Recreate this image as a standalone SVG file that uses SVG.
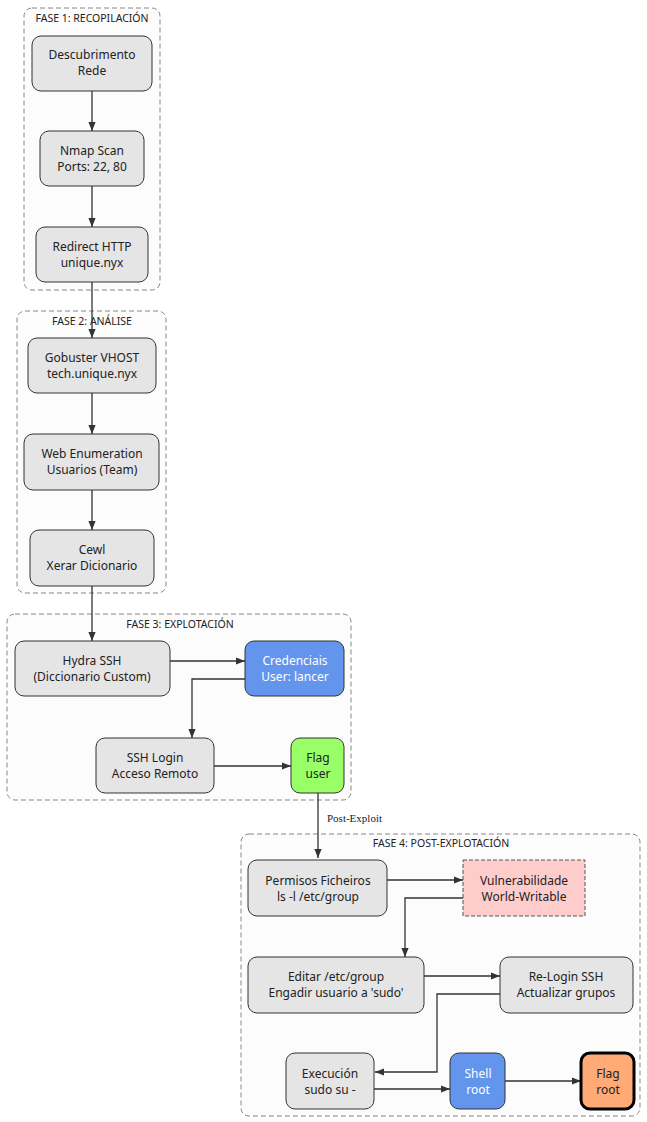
<svg xmlns="http://www.w3.org/2000/svg" width="647" height="1122" viewBox="0 0 647 1122">
<style>
.cl{fill:#fcfcfc;stroke:#888;stroke-dasharray:5 3;stroke-width:1}
.n{fill:#e5e5e5;stroke:#333;stroke-width:1}
.t{font-family:"Noto Sans",sans-serif;font-size:12px;fill:#222;text-anchor:middle}
.ct{font-family:"Noto Sans",sans-serif;font-size:10.5px;fill:#222;text-anchor:middle}
.e{fill:none;stroke:#333;stroke-width:1.3}
</style>
<defs><marker id="a" viewBox="0 0 10 10" refX="10" refY="5" markerWidth="9" markerHeight="9" orient="auto" markerUnits="userSpaceOnUse"><path d="M0,1 L10,5 L0,9z" fill="#333"/></marker></defs>
<g id="clusters">
<rect class="cl" x="24" y="8" width="136" height="282" rx="8"/><text class="ct" x="92" y="22">FASE 1: RECOPILACIÓN</text>
<rect class="cl" x="17" y="311" width="149" height="282" rx="8"/><text class="ct" x="92" y="325">FASE 2: ANÁLISE</text>
<rect class="cl" x="7" y="614" width="344" height="186" rx="8"/><text class="ct" x="180" y="628">FASE 3: EXPLOTACIÓN</text>
<rect class="cl" x="241" y="834" width="399" height="282" rx="8"/><text class="ct" x="441" y="847">FASE 4: POST-EXPLOTACIÓN</text>
</g>
<g id="edges">
<path class="e" marker-end="url(#a)" d="M92,91V131"/>
<path class="e" marker-end="url(#a)" d="M92,186V227"/>
<path class="e" marker-end="url(#a)" d="M92,282V338"/>
<path class="e" marker-end="url(#a)" d="M92,393V434"/>
<path class="e" marker-end="url(#a)" d="M92,490V530"/>
<path class="e" marker-end="url(#a)" d="M92,586V641"/>
<path class="e" marker-end="url(#a)" d="M170,661H245"/>
<path class="e" marker-end="url(#a)" d="M245,679H192V738"/>
<path class="e" marker-end="url(#a)" d="M214,766H291"/>
<path class="e" marker-end="url(#a)" d="M318,793V858"/>
<text x="327" y="822" style="font-family:'Liberation Serif',serif;font-size:11px;fill:#222">Post-Exploit</text>
<path class="e" marker-end="url(#a)" d="M387,880H463"/>
<path class="e" marker-end="url(#a)" d="M463,898H405V957"/>
<path class="e" marker-end="url(#a)" d="M424,976H500"/>
<path class="e" marker-end="url(#a)" d="M500,994H437V1072H375"/>
<path class="e" marker-end="url(#a)" d="M374,1089H450"/>
<path class="e" marker-end="url(#a)" d="M505,1081H581"/>
</g>
<g id="n1"><rect class="n" x="32" y="36" width="120" height="55" rx="9"/><text class="t" x="92" y="59">Descubrimento</text><text class="t" x="92" y="75">Rede</text></g>
<g id="n2"><rect class="n" x="40" y="131" width="104" height="55" rx="9"/><text class="t" x="92" y="155">Nmap Scan</text><text class="t" x="92" y="171">Ports: 22, 80</text></g>
<g id="n3"><rect class="n" x="36" y="227" width="112" height="55" rx="9"/><text class="t" x="92" y="251">Redirect HTTP</text><text class="t" x="92" y="267">unique.nyx</text></g>
<g id="n4"><rect class="n" x="28" y="338" width="128" height="55" rx="9"/><text class="t" x="92" y="362">Gobuster VHOST</text><text class="t" x="92" y="378">tech.unique.nyx</text></g>
<g id="n5"><rect class="n" x="24" y="434" width="135" height="56" rx="9"/><text class="t" x="92" y="458">Web Enumeration</text><text class="t" x="92" y="474">Usuarios (Team)</text></g>
<g id="n6"><rect class="n" x="30" y="530" width="124" height="56" rx="9"/><text class="t" x="92" y="554">Cewl</text><text class="t" x="92" y="570">Xerar Dicionario</text></g>
<g id="n7"><rect class="n" x="15" y="641" width="155" height="55" rx="9"/><text class="t" x="92" y="665">Hydra SSH</text><text class="t" x="92" y="681">(Diccionario Custom)</text></g>
<g id="n8"><rect x="245" y="641" width="99" height="55" rx="9" fill="#6495ed" stroke="#333"/><text class="t" x="295" y="665" style="fill:#fff">Credenciais</text><text class="t" x="295" y="681" style="fill:#fff">User: lancer</text></g>
<g id="n9"><rect class="n" x="96" y="738" width="118" height="55" rx="9"/><text class="t" x="155" y="762">SSH Login</text><text class="t" x="155" y="778">Acceso Remoto</text></g>
<g id="n10"><rect x="291" y="738" width="53" height="55" rx="9" fill="#99ff66" stroke="#333"/><text class="t" x="318" y="762">Flag</text><text class="t" x="318" y="778">user</text></g>
<g id="n11"><rect class="n" x="248" y="860" width="139" height="56" rx="9"/><text class="t" x="318" y="885">Permisos Ficheiros</text><text class="t" x="318" y="901">ls -l /etc/group</text></g>
<g id="n12"><rect x="463" y="860" width="122" height="56" fill="#ffcccc" stroke="#555" stroke-dasharray="4 2"/><text class="t" x="524" y="885">Vulnerabilidade</text><text class="t" x="524" y="901">World-Writable</text></g>
<g id="n13"><rect class="n" x="248" y="957" width="176" height="56" rx="9"/><text class="t" x="336" y="981">Editar /etc/group</text><text class="t" x="336" y="997">Engadir usuario a 'sudo'</text></g>
<g id="n14"><rect class="n" x="500" y="957" width="133" height="56" rx="9"/><text class="t" x="566" y="981">Re-Login SSH</text><text class="t" x="566" y="997">Actualizar grupos</text></g>
<g id="n15"><rect class="n" x="286" y="1053" width="88" height="56" rx="9"/><text class="t" x="330" y="1078">Execución</text><text class="t" x="330" y="1094">sudo su -</text></g>
<g id="n16"><rect x="450" y="1053" width="55" height="56" rx="9" fill="#6495ed" stroke="#333"/><text class="t" x="478" y="1078" style="fill:#fff">Shell</text><text class="t" x="478" y="1094" style="fill:#fff">root</text></g>
<g id="n17"><rect x="581" y="1053" width="53" height="56" rx="9" fill="#ffaa77" stroke="#000" stroke-width="3"/><text class="t" x="608" y="1078">Flag</text><text class="t" x="608" y="1094">root</text></g>
</svg>
